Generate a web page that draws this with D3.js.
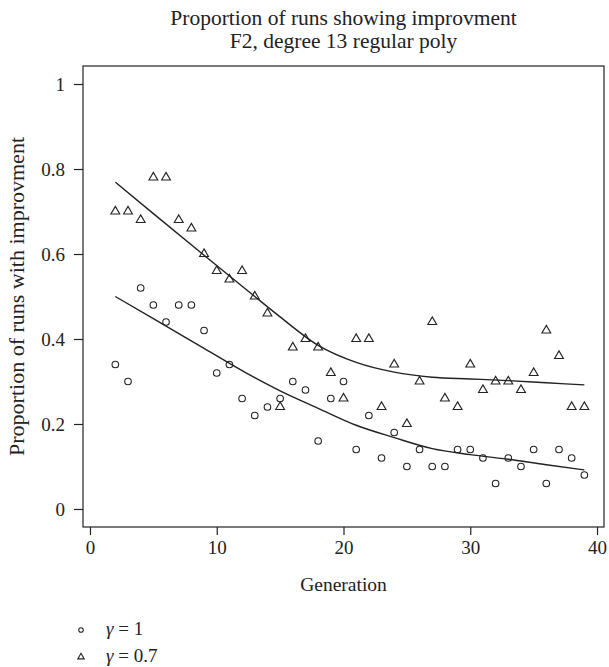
<!DOCTYPE html>
<html>
<head>
<meta charset="utf-8">
<script src="https://cdn.jsdelivr.net/npm/d3@7"></script>
<style>
  body { margin: 0; background: #fff; }
  text { font-family: "Liberation Serif", "DejaVu Serif", serif; fill: #222; }
</style>
</head>
<body>
<div id="chart"></div>
<script>
// generations 2..39, proportion of 50 runs that improved
var generations = d3.range(2, 40);
var gamma1 = [0.34, 0.30, 0.52, 0.48, 0.44, 0.48, 0.48, 0.42, 0.32, 0.34,
              0.26, 0.22, 0.24, 0.26, 0.30, 0.28, 0.16, 0.26, 0.30, 0.14,
              0.22, 0.12, 0.18, 0.10, 0.14, 0.10, 0.10, 0.14, 0.14, 0.12,
              0.06, 0.12, 0.10, 0.14, 0.06, 0.14, 0.12, 0.08];
var gamma07 = [0.70, 0.70, 0.68, 0.78, 0.78, 0.68, 0.66, 0.60, 0.56, 0.54,
               0.56, 0.50, 0.46, 0.24, 0.38, 0.40, 0.38, 0.32, 0.26, 0.40,
               0.40, 0.24, 0.34, 0.20, 0.30, 0.44, 0.26, 0.24, 0.34, 0.28,
               0.30, 0.30, 0.28, 0.32, 0.42, 0.36, 0.24, 0.24];

// smoothed fits
var fitX = [2, 5, 9, 13, 15, 18, 21, 24, 27, 30, 33, 36, 39];
var fitGamma1 = [0.50, 0.448, 0.378, 0.309, 0.278, 0.237, 0.197, 0.168, 0.142, 0.128, 0.117, 0.104, 0.092];
var fitGamma07 = [0.769, 0.695, 0.597, 0.50, 0.452, 0.385, 0.345, 0.322, 0.310, 0.306, 0.302, 0.297, 0.292];

var xTicks = [0, 10, 20, 30, 40];
var yTicks = [0, 0.2, 0.4, 0.6, 0.8, 1];
var legendLabels = ["1", "0.7"];

var W = 609, H = 667;
var box = {left: 83, right: 604, top: 66, bottom: 527};

var svg = d3.select("#chart").append("svg")
    .attr("width", W)
    .attr("height", H);

var x = d3.scaleLinear()
    .domain([-0.55, 40.55])
    .range([box.left, box.right]);

var y = d3.scaleLinear()
    .domain([-0.0424, 1.0424])
    .range([box.bottom, box.top]);

var ink = "#222";

// plot frame
svg.append("rect")
    .attr("x", box.left)
    .attr("y", box.top)
    .attr("width", box.right - box.left)
    .attr("height", box.bottom - box.top)
    .attr("fill", "none")
    .attr("stroke", ink)
    .attr("stroke-width", 1.2);

// axes
var xAxis = svg.append("g")
    .attr("transform", "translate(0," + box.bottom + ")")
    .call(d3.axisBottom(x).tickValues(xTicks).tickSize(8).tickPadding(6)
      .tickFormat(d3.format("d")));

var yAxis = svg.append("g")
    .attr("transform", "translate(" + box.left + ",0)")
    .call(d3.axisLeft(y).tickValues(yTicks).tickSize(9).tickPadding(9)
      .tickFormat(function(d) { return d === 0 || d === 1 ? d3.format("d")(d) : d3.format(".1f")(d); }));

[xAxis, yAxis].forEach(function(g) {
  g.select(".domain").remove();
  g.selectAll(".tick line").attr("stroke", ink).attr("stroke-width", 1.2);
  g.selectAll(".tick text")
    .style("font-family", '"Liberation Serif", serif')
    .style("font-size", "19px")
    .attr("fill", ink);
});

// fitted curves
var line = d3.line()
    .x(function(d) { return x(d[0]); })
    .y(function(d) { return y(d[1]); })
    .curve(d3.curveMonotoneX);

[fitGamma1, fitGamma07].forEach(function(fit) {
  svg.append("path")
    .datum(fitX.map(function(g, i) { return [g, fit[i]]; }))
    .attr("d", line)
    .attr("fill", "none")
    .attr("stroke", ink)
    .attr("stroke-width", 1.4);
});

// points
var circleSym = d3.symbol(d3.symbolCircle, 34);
var triSym = d3.symbol(d3.symbolTriangle, 34);

svg.selectAll("path.circ").data(gamma1).enter()
  .append("path")
    .attr("class", "circ")
    .attr("d", circleSym)
    .attr("transform", function(d, i) { return "translate(" + x(generations[i]) + "," + y(d) + ")"; })
    .attr("fill", "none")
    .attr("stroke", ink)
    .attr("stroke-width", 1.1);

svg.selectAll("path.tri").data(gamma07).enter()
  .append("path")
    .attr("class", "tri")
    .attr("d", triSym)
    .attr("transform", function(d, i) { return "translate(" + x(generations[i]) + "," + y(d) + ")"; })
    .attr("fill", "none")
    .attr("stroke", ink)
    .attr("stroke-width", 1.1);

// titles
svg.append("text")
    .attr("x", (box.left + box.right) / 2)
    .attr("y", 25)
    .attr("text-anchor", "middle")
    .style("font-size", "21.5px")
    .text("Proportion of runs showing improvment");

svg.append("text")
    .attr("x", (box.left + box.right) / 2)
    .attr("y", 48)
    .attr("text-anchor", "middle")
    .style("font-size", "21.5px")
    .text("F2, degree 13 regular poly");

svg.append("text")
    .attr("x", (box.left + box.right) / 2)
    .attr("y", 591)
    .attr("text-anchor", "middle")
    .style("font-size", "19.5px")
    .text("Generation");

svg.append("text")
    .attr("transform", "translate(24," + (box.top + box.bottom) / 2 + ") rotate(-90)")
    .attr("text-anchor", "middle")
    .style("font-size", "22px")
    .text("Proportion of runs with improvment");

// legend
var legend = svg.append("g").attr("transform", "translate(81,630)");
var legendSyms = [d3.symbol(d3.symbolCircle, 16), d3.symbol(d3.symbolTriangle, 18)];

legendLabels.forEach(function(lab, i) {
  var row = legend.append("g").attr("transform", "translate(0," + (i * 27) + ")");
  row.append("path")
    .attr("d", legendSyms[i])
    .attr("fill", "none")
    .attr("stroke", ink)
    .attr("stroke-width", 1.1);
  var t = row.append("text")
    .attr("x", 25)
    .attr("y", 5)
    .style("font-size", "19px");
  t.append("tspan").style("font-style", "italic").text("γ");
  t.append("tspan").text(" = " + lab);
});
</script>
</body>
</html>
